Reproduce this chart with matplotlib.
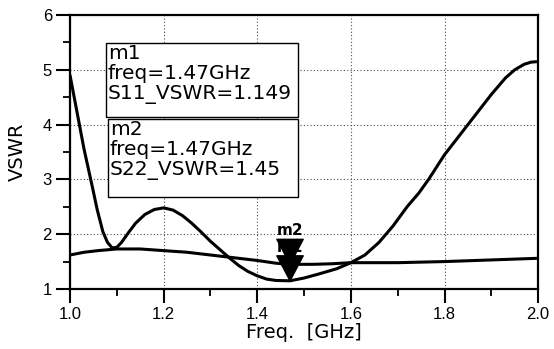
import matplotlib
matplotlib.use('Agg')
import matplotlib.pyplot as plt
from matplotlib.patches import Rectangle
from matplotlib.ticker import MultipleLocator

# S11 VSWR
freq_s11 = [1.000, 1.010, 1.020, 1.030, 1.048, 1.058, 1.070, 1.080, 1.090, 1.100,
            1.110, 1.125, 1.140, 1.160, 1.180, 1.200, 1.220, 1.240, 1.260, 1.280,
            1.300, 1.320, 1.340, 1.360, 1.380, 1.400, 1.420, 1.440, 1.470, 1.500,
            1.530, 1.570, 1.600, 1.630, 1.660, 1.690, 1.720, 1.745, 1.766, 1.800,
            1.850, 1.900, 1.930, 1.950, 1.970, 1.985, 2.000]
vswr_s11 = [4.90, 4.45, 4.00, 3.55, 2.85, 2.45, 2.05, 1.85, 1.75, 1.76,
            1.85, 2.03, 2.20, 2.36, 2.45, 2.48, 2.44, 2.34, 2.20, 2.04,
            1.87, 1.72, 1.57, 1.43, 1.32, 1.24, 1.18, 1.155, 1.149, 1.20,
            1.27, 1.37, 1.48, 1.62, 1.85, 2.15, 2.50, 2.75, 3.00, 3.45,
            4.00, 4.55, 4.85, 5.00, 5.10, 5.14, 5.15]

# S22 VSWR
freq_s22 = [1.00, 1.03, 1.06, 1.10, 1.15, 1.20, 1.25, 1.30, 1.35, 1.40,
            1.44, 1.47, 1.52, 1.56, 1.60, 1.70, 1.80, 1.90, 2.00]
vswr_s22 = [1.62, 1.67, 1.70, 1.73, 1.73, 1.70, 1.67, 1.62, 1.57, 1.52,
            1.47, 1.45, 1.45, 1.46, 1.48, 1.48, 1.50, 1.53, 1.56]

# markers
m_freq = 1.47
m1_val = 1.149
m2_val = 1.45

fig = plt.figure(figsize=(5.54, 3.49), dpi=100)
ax = fig.add_axes([0.1264, 0.172, 0.845, 0.785])

ax.plot(freq_s22, vswr_s22, color='black', lw=2.2, solid_capstyle='round', zorder=3)
ax.plot(freq_s11, vswr_s11, color='black', lw=2.2, solid_capstyle='round', zorder=3)

ax.set_xlim(1.0, 2.0)
ax.set_ylim(1, 6)
ax.xaxis.set_minor_locator(MultipleLocator(0.1))
ax.yaxis.set_major_locator(MultipleLocator(1))
ax.yaxis.set_minor_locator(MultipleLocator(0.5))
ax.set_xticks([1.0, 1.2, 1.4, 1.6, 1.8, 2.0])
ax.set_xticklabels(['1.0', '1.2', '1.4', '1.6', '1.8', '2.0'])

ax.tick_params(which='major', length=10, width=1.5, direction='out', pad=3)
ax.tick_params(which='minor', length=5, width=1.3, direction='out')
for lab in ax.get_xticklabels() + ax.get_yticklabels():
    lab.set_family('Liberation Sans')
    lab.set_fontsize(12)

for s in ax.spines.values():
    s.set_linewidth(1.6)

ax.grid(True, which='major', color='0.3', lw=0.8, linestyle=(0, (1, 2)))

ax.set_xlabel('Freq.  [GHz]', fontsize=14, labelpad=1)
ax.set_ylabel('VSWR', fontsize=14, labelpad=11)

# marker readout boxes
boxes = [
    ((0.077, 0.628), 0.410, 0.270, 'm1\nfreq=1.47GHz\nS11_VSWR=1.149', 0.081, 0.893),
    ((0.081, 0.336), 0.406, 0.284, 'm2\nfreq=1.47GHz\nS22_VSWR=1.45', 0.085, 0.615),
]
for (x0, y0), w, h, txt, tx, ty in boxes:
    ax.add_patch(Rectangle((x0, y0), w, h, transform=ax.transAxes,
                           facecolor='white', edgecolor='black', lw=1.0, zorder=4))
    ax.text(tx, ty, txt, transform=ax.transAxes, fontsize=14.5, va='top', ha='left',
            linespacing=1.05, zorder=5)

# marker arrows
for name, val in [('m2', m2_val), ('m1', m1_val)]:
    ax.annotate(name, xy=(m_freq, val), xytext=(0, 24), textcoords='offset points',
                ha='center', va='center', fontsize=11, fontweight='bold', zorder=6,
                arrowprops=dict(facecolor='black', edgecolor='black', width=6,
                                headwidth=19, headlength=18, shrink=0))

fig.savefig('out.png', dpi=100)
